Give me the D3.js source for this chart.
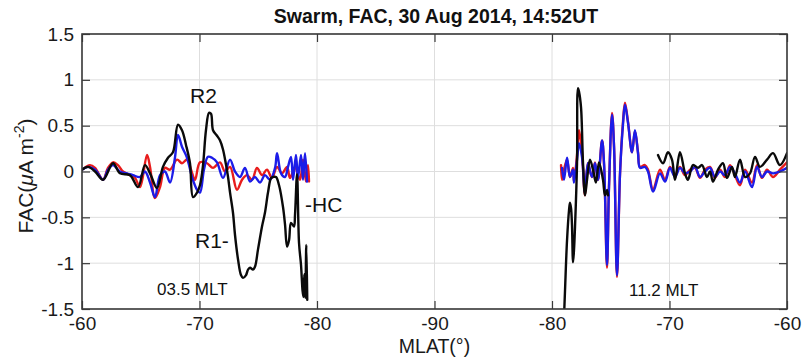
<!DOCTYPE html>
<html>
<head>
<meta charset="utf-8">
<script src="https://cdn.jsdelivr.net/npm/d3@7"></script>
<style>
  html, body { margin: 0; padding: 0; background: #fff; }
  svg { display: block; font-family: "Liberation Sans", Arial, Helvetica, sans-serif; }
</style>
</head>
<body>
<svg id="chart" width="802" height="361"></svg>
<script>
// Swarm field-aligned currents along one polar pass: [MLAT (deg), FAC (uA m^-2)]
// Dawn-side leg (03.5 MLT), poleward from -60 to about -79.
const dawnRed = [
  [-60.00,0.02],[-60.68,0.07],[-61.11,0.04],[-61.79,-0.09],[-62.21,0.04],[-62.64,0.10],
  [-63.06,0.07],[-63.49,0.00],[-64.09,-0.04],[-64.51,-0.07],[-64.94,-0.17],[-65.53,0.18],
  [-65.79,0.05],[-66.21,-0.29],[-66.64,-0.17],[-67.06,0.04],[-67.49,0.02],[-68.09,0.13],
  [-68.51,0.09],[-68.94,0.13],[-69.28,0.02],[-69.62,-0.09],[-70.04,0.10],[-70.64,0.09],
  [-71.15,0.04],[-71.74,0.10],[-72.17,0.00],[-72.60,0.05],[-73.19,-0.20],[-73.62,-0.09],
  [-74.04,-0.04],[-74.47,-0.09],[-74.89,0.04],[-75.32,-0.04],[-75.74,0.02],[-76.17,-0.07],
  [-76.60,0.05],[-77.02,-0.02],[-77.45,0.05],[-77.70,-0.07],[-78.13,0.04],[-78.55,-0.09],
  [-78.81,0.13],[-79.06,-0.11],[-79.23,0.07],[-79.32,-0.11]
];
const dawnBlue = [
  [-60.00,0.02],[-60.51,0.05],[-61.11,0.02],[-61.79,-0.09],[-62.21,0.02],[-62.64,0.07],
  [-63.23,0.00],[-63.83,-0.02],[-64.34,-0.04],[-64.94,-0.06],[-65.36,0.00],[-65.79,-0.12],
  [-66.21,-0.28],[-66.64,-0.04],[-67.06,0.00],[-67.49,-0.12],[-67.91,0.15],[-68.17,0.40],
  [-68.51,0.27],[-68.94,0.15],[-69.36,-0.06],[-69.79,-0.20],[-70.04,-0.23],[-70.38,0.02],
  [-70.72,0.16],[-71.06,0.15],[-71.49,0.10],[-72.00,-0.07],[-72.60,0.13],[-73.02,0.00],
  [-73.45,-0.06],[-73.87,0.04],[-74.30,-0.11],[-74.72,-0.06],[-75.15,-0.12],[-75.57,-0.04],
  [-76.00,-0.09],[-76.43,0.04],[-76.60,0.20],[-76.94,-0.02],[-77.28,-0.06],[-77.53,0.05],
  [-77.79,0.16],[-77.96,-0.09],[-78.21,0.18],[-78.38,-0.07],[-78.64,0.18],[-78.81,-0.09],
  [-78.98,0.20],[-79.15,-0.11]
];
const dawnBlack = [
  [-60.00,0.02],[-60.51,0.05],[-61.11,0.00],[-61.79,-0.09],[-62.64,0.09],[-63.23,-0.02],
  [-64.09,-0.04],[-64.77,-0.17],[-65.36,0.07],[-65.79,-0.02],[-66.38,-0.18],[-66.89,0.05],
  [-67.32,0.15],[-67.74,0.21],[-68.17,0.51],[-68.51,0.45],[-68.85,0.29],[-69.19,0.09],
  [-69.45,-0.28],[-69.79,-0.23],[-70.04,-0.15],[-70.30,0.07],[-70.55,0.45],[-70.81,0.64],
  [-70.98,0.63],[-71.15,0.45],[-71.49,0.39],[-71.74,0.34],[-72.00,0.24],[-72.26,0.07],
  [-72.43,-0.06],[-72.60,-0.23],[-72.85,-0.45],[-73.02,-0.69],[-73.28,-0.96],[-73.53,-1.13],
  [-73.70,-1.16],[-73.96,-1.13],[-74.13,-1.07],[-74.30,-1.05],[-74.55,-1.07],[-74.72,-1.04],
  [-74.98,-0.85],[-75.32,-0.60],[-75.57,-0.45],[-75.83,-0.23],[-76.09,-0.07],[-76.26,-0.06],
  [-76.51,-0.06],[-76.77,-0.15],[-77.11,-0.39],[-77.28,-0.58],[-77.45,-0.82],[-77.62,-0.75],
  [-77.79,-0.56],[-78.04,-0.60],[-78.13,-0.47],[-78.30,-0.03],[-78.47,-0.78],[-78.64,-1.02],
  [-78.77,-1.30],[-78.85,-1.37],[-78.92,-1.12],[-79.00,-1.38],[-79.09,-0.80],[-79.17,-1.40]
];

// Noon-side leg (11.2 MLT), equatorward from about -79 back to -60.
const noonRed = [
  [-79.23,0.07],[-79.15,-0.09],[-78.98,0.02],[-78.72,0.13],[-78.47,-0.06],[-78.21,0.04],
  [-78.13,-0.11],[-77.87,0.18],[-77.70,0.45],[-77.45,0.21],[-77.19,-0.26],[-76.94,0.09],
  [-76.60,-0.06],[-76.34,0.10],[-76.09,-0.09],[-75.74,0.34],[-75.57,0.07],[-75.32,-1.05],
  [-75.15,-0.17],[-74.89,0.64],[-74.72,0.27],[-74.47,-1.15],[-74.21,-0.02],[-73.96,0.54],
  [-73.79,0.75],[-73.53,0.54],[-73.19,0.21],[-72.94,0.44],[-72.68,0.21],[-72.51,0.05],
  [-72.09,0.07],[-71.83,0.02],[-71.40,-0.20],[-70.81,0.02],[-70.38,-0.09],[-69.96,0.05],
  [-69.53,-0.04],[-69.11,0.05],[-68.68,-0.04],[-68.26,0.02],[-67.83,0.04],[-67.40,-0.07],
  [-66.98,0.02],[-66.55,0.05],[-66.13,-0.07],[-65.70,0.02],[-65.28,-0.06],[-64.85,0.07],
  [-64.43,-0.04],[-64.00,-0.15],[-63.57,0.02],[-62.98,-0.12],[-62.55,0.07],[-62.13,-0.07],
  [-61.70,0.02],[-61.19,-0.06],[-60.60,0.02],[-60.00,0.10]
];
const noonBlue = [
  [-79.15,0.04],[-78.98,-0.09],[-78.72,0.15],[-78.47,-0.06],[-78.21,0.02],[-78.13,-0.12],
  [-77.87,0.13],[-77.70,0.31],[-77.45,0.16],[-77.19,-0.23],[-76.94,0.09],[-76.60,-0.06],
  [-76.34,0.09],[-76.09,-0.09],[-75.74,0.34],[-75.57,0.09],[-75.32,-1.02],[-75.15,-0.17],
  [-74.89,0.62],[-74.72,0.27],[-74.47,-1.13],[-74.21,-0.02],[-73.96,0.51],[-73.79,0.73],
  [-73.53,0.53],[-73.19,0.21],[-72.94,0.45],[-72.68,0.20],[-72.51,0.04],[-72.09,0.05],
  [-71.83,0.00],[-71.40,-0.22],[-70.81,-0.02],[-70.38,-0.11],[-69.96,0.04],[-69.53,-0.06],
  [-69.11,0.04],[-68.68,-0.02],[-68.26,0.00],[-67.83,0.05],[-67.40,-0.06],[-66.98,0.00],
  [-66.55,0.04],[-66.13,-0.06],[-65.70,0.00],[-65.28,-0.04],[-64.85,0.05],[-64.43,-0.02],
  [-64.00,-0.12],[-63.57,0.00],[-62.98,-0.17],[-62.55,0.05],[-62.13,-0.06],[-61.70,0.00],
  [-61.19,-0.02],[-60.60,0.00],[-60.00,0.04]
];
const noonBlackPole = [
  [-78.98,-1.60],[-78.89,-1.29],[-78.72,-0.75],[-78.55,-0.42],[-78.47,-0.34],[-78.38,-0.40],
  [-78.30,-0.58],[-78.21,-0.99],[-78.13,-0.86],[-78.04,-0.60],[-77.87,0.09],[-77.79,0.91],
  [-77.70,0.87],[-77.53,0.70],[-77.36,0.09],[-77.19,-0.26],[-77.02,-0.09],[-76.77,0.13],
  [-76.51,0.02],[-76.26,-0.12],[-76.00,0.10],[-75.66,-0.09],[-75.49,-0.26],[-75.32,-0.20],
  [-75.23,-0.26]
];
const noonBlackEq = [
  [-70.98,0.18],[-70.55,0.09],[-70.13,0.21],[-69.79,0.13],[-69.53,-0.09],[-69.11,0.21],
  [-68.68,-0.02],[-68.43,-0.09],[-68.00,0.07],[-67.57,0.04],[-67.23,0.07],[-66.81,-0.06],
  [-66.55,0.00],[-66.30,-0.11],[-65.87,0.02],[-65.45,0.09],[-65.11,-0.07],[-64.68,0.05],
  [-64.43,-0.06],[-64.00,0.13],[-63.57,-0.06],[-63.15,-0.02],[-62.72,0.16],[-62.30,0.05],
  [-61.70,0.13],[-61.19,0.20],[-60.60,0.07],[-60.00,0.20]
];

const xTickLabels = [-60, -70, -80, -90, -80, -70, -60];
const yTicks = [-1.5, -1, -0.5, 0, 0.5, 1, 1.5];

const titleText = "Swarm, FAC, 30 Aug 2014, 14:52UT";

// ---- layout ----
const W = 802, H = 361;
const plot = { left: 82, right: 787, top: 34, bottom: 309 };

const svg = d3.select("#chart");

// Along-track position: 0..30 for the dawn leg (-60 -> -90), 30..60 for the noon leg (-90 -> -60)
const dawnPos = m => -60 - m;
const noonPos = m => 120 + m;

const x = d3.scaleLinear().domain([0, 60]).range([plot.left, plot.right]);
const y = d3.scaleLinear().domain([-1.5, 1.5]).range([plot.bottom, plot.top]);
const xTickPos = xTickLabels.map((d, i) => i * 10);

// grid
const grid = svg.append("g").attr("class", "grid");
grid.selectAll("line.v").data(xTickPos).join("line")
  .attr("x1", d => x(d)).attr("x2", d => x(d))
  .attr("y1", plot.top).attr("y2", plot.bottom)
  .attr("stroke", "#dedede").attr("stroke-width", 1);
grid.selectAll("line.h").data(yTicks).join("line")
  .attr("x1", plot.left).attr("x2", plot.right)
  .attr("y1", d => y(d)).attr("y2", d => y(d))
  .attr("stroke", "#dedede").attr("stroke-width", 1);

// curves, clipped to the axes box
svg.append("clipPath").attr("id", "plotClip").append("rect")
  .attr("x", plot.left).attr("y", plot.top)
  .attr("width", plot.right - plot.left).attr("height", plot.bottom - plot.top);

const curves = svg.append("g").attr("clip-path", "url(#plotClip)");
const lineFor = posFn => d3.line()
  .x(d => x(posFn(d[0])))
  .y(d => y(d[1]))
  .curve(d3.curveCatmullRom.alpha(0.5));

const series = [
  { data: dawnRed,       pos: dawnPos, color: "#e81c1c" },
  { data: noonRed,       pos: noonPos, color: "#e81c1c" },
  { data: dawnBlue,      pos: dawnPos, color: "#1c1ce8" },
  { data: noonBlue,      pos: noonPos, color: "#1c1ce8" },
  { data: dawnBlack,     pos: dawnPos, color: "#0a0a0a" },
  { data: noonBlackPole, pos: noonPos, color: "#0a0a0a" },
  { data: noonBlackEq,   pos: noonPos, color: "#0a0a0a" }
];
curves.selectAll("path").data(series).join("path")
  .attr("d", s => lineFor(s.pos)(s.data))
  .attr("fill", "none")
  .attr("stroke", s => s.color)
  .attr("stroke-width", 2.4)
  .attr("stroke-linejoin", "round")
  .attr("stroke-linecap", "round");

// axes (ticks pointing inward, box on all four sides)
const axisColor = "#3a3a3a";
const fontFam = '"Liberation Sans", Arial, Helvetica, sans-serif';
const styleAxis = g => {
  g.select(".domain").remove();
  g.selectAll(".tick line").attr("stroke", axisColor).attr("stroke-width", 1.2);
  g.selectAll(".tick text").attr("fill", "#1a1a1a");
  g.attr("font-family", fontFam).attr("font-size", 19);
};

svg.append("g")
  .attr("transform", `translate(0,${plot.bottom})`)
  .call(d3.axisBottom(x).tickValues(xTickPos)
    .tickFormat((d, i) => String(xTickLabels[i]))
    .tickSizeInner(-8).tickSizeOuter(0).tickPadding(8))
  .call(styleAxis);

svg.append("g")
  .attr("transform", `translate(0,${plot.top})`)
  .call(d3.axisTop(x).tickValues(xTickPos).tickFormat("")
    .tickSizeInner(-8).tickSizeOuter(0))
  .call(styleAxis);

svg.append("g")
  .attr("transform", `translate(${plot.left},0)`)
  .call(d3.axisLeft(y).tickValues(yTicks)
    .tickFormat(d => String(d))
    .tickSizeInner(-8).tickSizeOuter(0).tickPadding(8))
  .call(styleAxis);

svg.append("g")
  .attr("transform", `translate(${plot.right},0)`)
  .call(d3.axisRight(y).tickValues(yTicks).tickFormat("")
    .tickSizeInner(-8).tickSizeOuter(0))
  .call(styleAxis);

svg.append("rect")
  .attr("x", plot.left).attr("y", plot.top)
  .attr("width", plot.right - plot.left).attr("height", plot.bottom - plot.top)
  .attr("fill", "none").attr("stroke", axisColor).attr("stroke-width", 1.6);

// title
svg.append("text")
  .attr("x", 436).attr("y", 23)
  .attr("text-anchor", "middle")
  .attr("font-family", fontFam).attr("font-weight", "bold").attr("font-size", 19.5)
  .attr("fill", "#111")
  .text(titleText);

// x label
svg.append("text")
  .attr("x", (plot.left + plot.right) / 2).attr("y", 353)
  .attr("text-anchor", "middle")
  .attr("font-family", fontFam).attr("font-size", 19.5)
  .attr("fill", "#1a1a1a")
  .text("MLAT(°)");

// y label with italic mu and superscript
const yl = svg.append("text")
  .attr("transform", "translate(33,176) rotate(-90)")
  .attr("text-anchor", "middle")
  .attr("font-family", fontFam).attr("font-size", 21)
  .attr("fill", "#1a1a1a");
yl.append("tspan").text("FAC(");
yl.append("tspan").attr("font-style", "italic").text("μ");
yl.append("tspan").text("A m");
yl.append("tspan").attr("font-size", 14).attr("dy", -9).text("-2");
yl.append("tspan").attr("dy", 9).text(")");

// annotations
const notes = [
  { t: "R2",       x: 190, y: 103, s: 21 },
  { t: "R1-",      x: 195, y: 248, s: 21 },
  { t: "-HC",      x: 305, y: 212, s: 21 },
  { t: "03.5 MLT", x: 157, y: 295, s: 17 },
  { t: "11.2 MLT", x: 629, y: 296, s: 17 }
];
svg.append("g").selectAll("text").data(notes).join("text")
  .attr("x", d => d.x).attr("y", d => d.y)
  .attr("font-family", fontFam).attr("font-size", d => d.s)
  .attr("fill", "#111")
  .text(d => d.t);
</script>
</body>
</html>
